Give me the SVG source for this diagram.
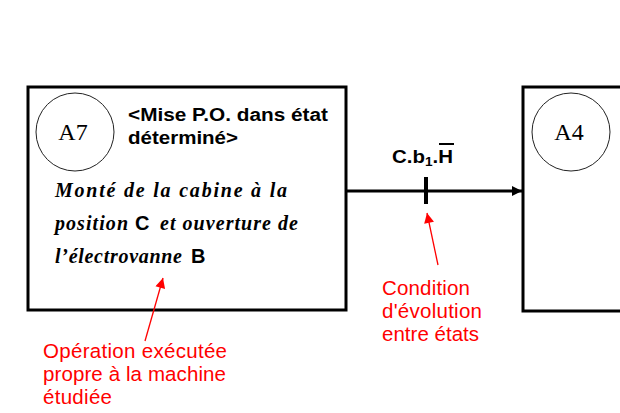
<svg xmlns="http://www.w3.org/2000/svg" width="620" height="413" viewBox="0 0 620 413">
<defs>
<style>
.box{fill:#fff;stroke:#000;stroke-width:3}
.circ{fill:none;stroke:#222;stroke-width:1}
.id{font-family:"Liberation Serif",serif;font-size:24px;fill:#000}
.title{font-family:"Liberation Sans",Arial,sans-serif;font-size:18px;font-weight:bold;fill:#000}
.script{font-family:"Liberation Serif",serif;font-style:italic;font-weight:bold;font-size:20px;fill:#000}
.sans{font-family:"Liberation Sans",Arial,sans-serif;font-size:20px;font-weight:bold;fill:#000}
.red{font-family:"Liberation Sans",Arial,sans-serif;font-size:20.5px;fill:#f00}
.cond{font-family:"Liberation Sans",Arial,sans-serif;font-size:18px;font-weight:bold;fill:#000}
</style>
<marker id="ah" viewBox="0 0 10 10" refX="10" refY="5" markerWidth="10" markerHeight="10" markerUnits="userSpaceOnUse" orient="auto"><path d="M0,0 L10,5 L0,10 z" fill="#000"/></marker>
<marker id="rh" viewBox="0 0 10 10" refX="10" refY="5" markerWidth="12" markerHeight="10" markerUnits="userSpaceOnUse" orient="auto"><path d="M0,0 L10,5 L0,10 z" fill="#f00"/></marker>
</defs>
<rect width="620" height="413" fill="#fff"/>
<g id="A7">
<rect class="box" x="28" y="87" width="318" height="223"/>
<circle class="circ" cx="75" cy="132" r="39"/>
<text class="id" x="73" y="140" text-anchor="middle">A7</text>
<text class="title" x="128" y="121" textLength="200" lengthAdjust="spacingAndGlyphs">&lt;Mise P.O. dans état</text>
<text class="title" x="128" y="144" textLength="110" lengthAdjust="spacingAndGlyphs">déterminé&gt;</text>
<text class="script" x="55" y="197" textLength="232" lengthAdjust="spacing">Monté de la cabine à la</text>
<text class="script" x="55" y="230" textLength="73" lengthAdjust="spacing">position</text>
<text class="sans" x="135" y="230">C</text>
<text class="script" x="160" y="230" textLength="138" lengthAdjust="spacing">et ouverture de</text>
<text class="script" x="55" y="263" textLength="127" lengthAdjust="spacing">l’électrovanne</text>
<text class="sans" x="191" y="263">B</text>
</g>
<g id="A4">
<rect class="box" x="523" y="87" width="110" height="224"/>
<circle class="circ" cx="571" cy="132" r="39"/>
<text class="id" x="569" y="140" text-anchor="middle">A4</text>
</g>
<g id="connectors">
<line x1="346" y1="191" x2="522" y2="191" stroke="#000" stroke-width="3" marker-end="url(#ah)"/>
<line x1="426" y1="177" x2="426" y2="204" stroke="#000" stroke-width="4"/>
<text class="cond" x="392" y="163" textLength="61" lengthAdjust="spacingAndGlyphs">C.b<tspan font-size="12" dy="3">1</tspan><tspan dy="-3">.H</tspan></text>
<line x1="439" y1="144" x2="454" y2="144" stroke="#000" stroke-width="2"/>
<line x1="438" y1="265" x2="427" y2="213" stroke="#f00" stroke-width="1.3" marker-end="url(#rh)"/>
<line x1="145" y1="341" x2="163" y2="278" stroke="#f00" stroke-width="1.3" marker-end="url(#rh)"/>
</g>
<g id="labels">
<text class="red" x="382" y="295" textLength="88">Condition</text>
<text class="red" x="382" y="318" textLength="100">d'évolution</text>
<text class="red" x="382" y="341" textLength="97">entre états</text>
<text class="red" x="43" y="358" textLength="184">Opération exécutée</text>
<text class="red" x="43" y="381" textLength="183">propre à la machine</text>
<text class="red" x="43" y="404" textLength="69">étudiée</text>
</g>
</svg>
